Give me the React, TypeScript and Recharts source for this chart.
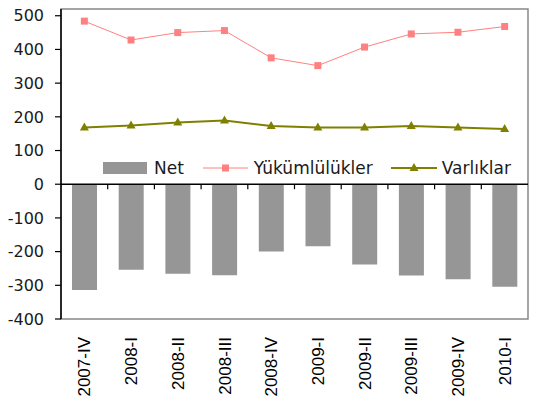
import React from "react";
import { ComposedChart, Bar, Line, XAxis, YAxis, ReferenceLine, ReferenceArea } from "recharts";

const categories = ["2007-IV", "2008-I", "2008-II", "2008-III", "2008-IV", "2009-I", "2009-II", "2009-III", "2009-IV", "2010-I"];
const netValues = [-314, -254, -266, -270, -200, -184, -238, -271, -282, -304];
const yukumlulukler = [484, 428, 450, 456, 375, 352, 407, 446, 451, 468];
const varliklar = [168, 174, 183, 189, 173, 168, 168, 173, 168, 164];
const yTicks = [-400, -300, -200, -100, 0, 100, 200, 300, 400, 500];

const NAME_NET = "Net";
const NAME_Y = "Yükümlülükler";
const NAME_V = "Varlıklar";

const data = categories.map((c, i) => ({
  cat: c,
  net: netValues[i],
  yuk: yukumlulukler[i],
  var: varliklar[i],
}));

const GRAY = "#969696";
const PINK = "#FF8080";
const OLIVE = "#808000";
const FONT = "'DejaVu Sans', sans-serif";

const SquareDot = (props: any) => {
  const { cx, cy } = props;
  if (cx == null || cy == null) return null;
  return <rect x={cx - 3.5} y={cy - 3.5} width={7} height={7} fill={PINK} />;
};

const TriDot = (props: any) => {
  const { cx, cy } = props;
  if (cx == null || cy == null) return null;
  return <polygon points={`${cx},${cy - 5} ${cx + 4.5},${cy + 3} ${cx - 4.5},${cy + 3}`} fill={OLIVE} />;
};

const XTick = (props: any) => {
  const { x, y, payload } = props;
  const ty = y + 18;
  return (
    <text
      x={x}
      y={ty}
      dy="0.36em"
      transform={`rotate(-90, ${x}, ${ty})`}
      textAnchor="end"
      fontFamily="'Liberation Sans', Arial, sans-serif"
      fontSize={17}
      fill="#000"
    >
      {payload.value}
    </text>
  );
};

const ZeroLine = (props: any) => {
  const { x1, y1, x2, y2 } = props;
  const n = categories.length;
  const step = (x2 - x1) / n;
  const ticks = [];
  for (let i = 1; i < n; i++) {
    const tx = x1 + step * i;
    ticks.push(<line key={i} x1={tx} y1={y1} x2={tx} y2={y1 + 5} stroke="#000" strokeWidth={1.2} />);
  }
  return (
    <g>
      <line x1={x1} y1={y1} x2={x2} y2={y2} stroke="#000" strokeWidth={1.5} />
      {ticks}
    </g>
  );
};

const Legend = () => (
  <div
    style={{
      position: "absolute",
      left: 103,
      top: 158,
      height: 20,
      display: "flex",
      alignItems: "center",
      fontFamily: FONT,
      fontSize: 17,
      color: "#1a1a1a",
      whiteSpace: "nowrap",
      lineHeight: "20px",
    }}
  >
    <svg width={44} height={12} style={{ display: "block" }}>
      <rect x={0} y={0} width={44} height={12} fill={GRAY} />
    </svg>
    <span style={{ marginLeft: 7 }}>{NAME_NET}</span>
    <svg width={45} height={12} style={{ display: "block", marginLeft: 19 }}>
      <line x1={0} y1={6} x2={45} y2={6} stroke={PINK} strokeWidth={1} />
      <rect x={19} y={2.5} width={7} height={7} fill={PINK} />
    </svg>
    <span style={{ marginLeft: 6 }}>{NAME_Y}</span>
    <svg width={46} height={12} style={{ display: "block", marginLeft: 18 }}>
      <line x1={0} y1={6} x2={46} y2={6} stroke={OLIVE} strokeWidth={2} />
      <polygon points="23,1 27.5,9 18.5,9" fill={OLIVE} />
    </svg>
    <span style={{ marginLeft: 5 }}>{NAME_V}</span>
  </div>
);

export default function App() {
  return (
    <div style={{ position: "absolute", left: 0, top: 0, width: 533, height: 403, background: "#fff" }}>
      <ComposedChart
        width={533}
        height={403}
        data={data}
        margin={{ top: 9, right: 5, left: 0, bottom: 0 }}
        barCategoryGap="23%"
      >
        <ReferenceArea y1={-400} y2={520} fill="none" stroke="#888888" strokeWidth={1.5} ifOverflow="visible" />
        <XAxis
          dataKey="cat"
          height={84}
          axisLine={false}
          tickLine={false}
          tickSize={0}
          tickMargin={0}
          interval={0}
          tick={<XTick />}
        />
        <YAxis
          width={61}
          domain={[-400, 520]}
          ticks={yTicks}
          interval={0}
          allowDataOverflow
          axisLine={{ stroke: "#000", strokeWidth: 1.5 }}
          tickLine={{ stroke: "#000", strokeWidth: 1.2 }}
          tickSize={6}
          tickMargin={11}
          tick={{ fontFamily: FONT, fontSize: 16, fill: "#1a1a1a" }}
        />
        <Bar dataKey="net" name={NAME_NET} fill={GRAY} barSize={25} isAnimationActive={false} />
        <ReferenceLine y={0} shape={<ZeroLine />} ifOverflow="visible" />
        <Line
          dataKey="yuk"
          name={NAME_Y}
          stroke={PINK}
          strokeWidth={1}
          dot={<SquareDot />}
          activeDot={false}
          isAnimationActive={false}
        />
        <Line
          dataKey="var"
          name={NAME_V}
          stroke={OLIVE}
          strokeWidth={2}
          dot={<TriDot />}
          activeDot={false}
          isAnimationActive={false}
        />
      </ComposedChart>
      <Legend />
    </div>
  );
}
